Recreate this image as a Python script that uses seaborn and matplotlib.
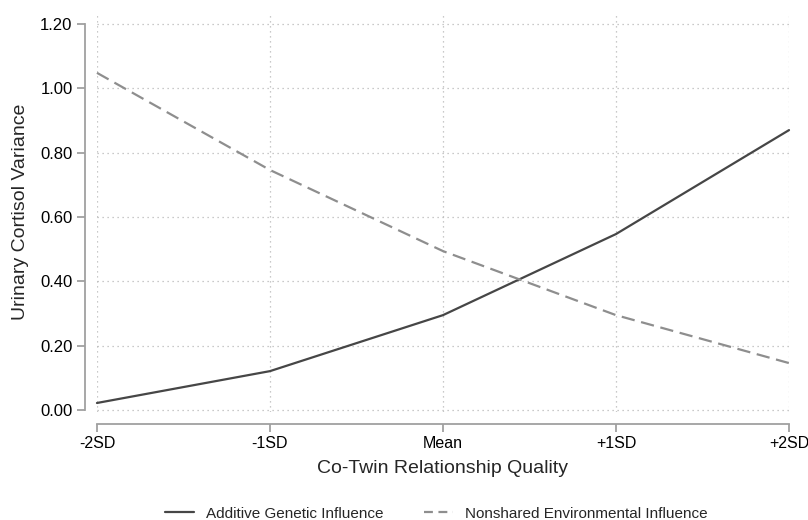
import matplotlib
matplotlib.use("Agg")
import matplotlib.pyplot as plt
import seaborn as sns
import pandas as pd

# values
levels = ['-2SD', '-1SD', 'Mean', '+1SD', '+2SD']
additive = [0.022, 0.121, 0.295, 0.547, 0.870]
nonshared = [1.048, 0.746, 0.494, 0.295, 0.146]
y_ticks = [0.0, 0.2, 0.4, 0.6, 0.8, 1.0, 1.2]

series_a = 'Additive Genetic Influence'
series_e = 'Nonshared Environmental Influence'

df = pd.DataFrame({
    'pos': list(range(len(levels))) * 2,
    'value': additive + nonshared,
    'series': [series_a] * len(levels) + [series_e] * len(levels),
})

sns.set_style('white')
plt.rcParams['font.family'] = ['Liberation Sans', 'DejaVu Sans']

fig = plt.figure(figsize=(8.08, 5.2), dpi=100)
ax = fig.add_axes([0.12, 0.2077, 0.8565, 0.7692])

sns.lineplot(data=df, x='pos', y='value', hue='series', style='series',
             palette={series_a: '#464646', series_e: '#8e8e8e'},
             dashes={series_a: '', series_e: (6, 3)},
             linewidth=1.6, ax=ax, legend=False)
for ln in ax.get_lines():
    ln.set_clip_on(False)

ax.set_xlim(0, 4)
ax.set_ylim(-0.006, 1.237)
ax.set_xticks(range(len(levels)))
ax.set_xticklabels(levels)
ax.set_yticks(y_ticks)
ax.set_yticklabels([f'{v:.2f}' for v in y_ticks])

ax.grid(True, color='#b8b8b8', linestyle=(0, (1, 3)), linewidth=0.9)
ax.yaxis.get_gridlines()[-1].set_visible(False)

for s in ['top', 'right']:
    ax.spines[s].set_visible(False)
ax.spines['left'].set_position(('outward', 8.6))
ax.spines['bottom'].set_position(('outward', 8.6))
ax.spines['left'].set_bounds(0, 1.2)
ax.spines['bottom'].set_bounds(0, 4)
for s in ['left', 'bottom']:
    ax.spines[s].set_color('#a0a0a0')
    ax.spines[s].set_linewidth(1.3)

ax.tick_params(axis='both', which='major', direction='out', length=6,
               width=1.3, color='#a0a0a0', labelsize=12, labelcolor='black',
               bottom=True, left=True)
ax.tick_params(axis='x', pad=3, labelsize=11.5)
ax.tick_params(axis='y', pad=3)

ax.set_xlabel('Co-Twin Relationship Quality', fontsize=14, labelpad=6)
ax.set_ylabel('Urinary Cortisol Variance', fontsize=14, labelpad=8)

handles = [plt.Line2D([], [], color='#464646', lw=1.6),
           plt.Line2D([], [], color='#8e8e8e', lw=1.6, dashes=(4, 2.5))]
fig.legend(handles, [series_a, series_e], loc='lower center',
           bbox_to_anchor=(0.54, -0.028), ncol=2, frameon=False,
           fontsize=11, columnspacing=2.6, handlelength=1.9, handletextpad=0.8)

fig.savefig('out.png', dpi=100)
